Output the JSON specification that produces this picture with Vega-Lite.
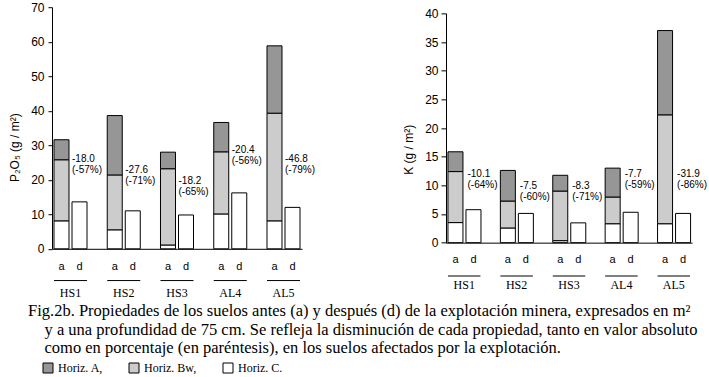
{
  "$schema": "https://vega.github.io/schema/vega-lite/v6.json",
  "background": "white",
  "padding": {"left": 8, "top": 1, "right": 0, "bottom": 0},
  "datasets": {
    "p": [
      {"site": "HS1", "period": "a", "horizon": "C", "value": 8.1},
      {"site": "HS1", "period": "a", "horizon": "Bw", "value": 17.7},
      {"site": "HS1", "period": "a", "horizon": "A", "value": 5.8},
      {"site": "HS1", "period": "d", "horizon": "C", "value": 13.6},
      {"site": "HS2", "period": "a", "horizon": "C", "value": 5.5},
      {"site": "HS2", "period": "a", "horizon": "Bw", "value": 15.9},
      {"site": "HS2", "period": "a", "horizon": "A", "value": 17.2},
      {"site": "HS2", "period": "d", "horizon": "C", "value": 11.0},
      {"site": "HS3", "period": "a", "horizon": "C", "value": 1.1},
      {"site": "HS3", "period": "a", "horizon": "Bw", "value": 22.1},
      {"site": "HS3", "period": "a", "horizon": "A", "value": 4.8},
      {"site": "HS3", "period": "d", "horizon": "C", "value": 9.8},
      {"site": "AL4", "period": "a", "horizon": "C", "value": 10.1},
      {"site": "AL4", "period": "a", "horizon": "Bw", "value": 18.0},
      {"site": "AL4", "period": "a", "horizon": "A", "value": 8.5},
      {"site": "AL4", "period": "d", "horizon": "C", "value": 16.2},
      {"site": "AL5", "period": "a", "horizon": "C", "value": 8.1},
      {"site": "AL5", "period": "a", "horizon": "Bw", "value": 31.2},
      {"site": "AL5", "period": "a", "horizon": "A", "value": 19.5},
      {"site": "AL5", "period": "d", "horizon": "C", "value": 12.0}
    ],
    "k": [
      {"site": "HS1", "period": "a", "horizon": "C", "value": 3.5},
      {"site": "HS1", "period": "a", "horizon": "Bw", "value": 8.9},
      {"site": "HS1", "period": "a", "horizon": "A", "value": 3.45},
      {"site": "HS1", "period": "d", "horizon": "C", "value": 5.75},
      {"site": "HS2", "period": "a", "horizon": "C", "value": 2.56},
      {"site": "HS2", "period": "a", "horizon": "Bw", "value": 4.7},
      {"site": "HS2", "period": "a", "horizon": "A", "value": 5.34},
      {"site": "HS2", "period": "d", "horizon": "C", "value": 5.1},
      {"site": "HS3", "period": "a", "horizon": "C", "value": 0.35},
      {"site": "HS3", "period": "a", "horizon": "Bw", "value": 8.65},
      {"site": "HS3", "period": "a", "horizon": "A", "value": 2.75},
      {"site": "HS3", "period": "d", "horizon": "C", "value": 3.45},
      {"site": "AL4", "period": "a", "horizon": "C", "value": 3.3},
      {"site": "AL4", "period": "a", "horizon": "Bw", "value": 4.66},
      {"site": "AL4", "period": "a", "horizon": "A", "value": 5.04},
      {"site": "AL4", "period": "d", "horizon": "C", "value": 5.3},
      {"site": "AL5", "period": "a", "horizon": "C", "value": 3.3},
      {"site": "AL5", "period": "a", "horizon": "Bw", "value": 19.0},
      {"site": "AL5", "period": "a", "horizon": "A", "value": 14.7},
      {"site": "AL5", "period": "d", "horizon": "C", "value": 5.1}
    ],
    "pann": [
      {"site": "HS1", "label": "-18.0\n(-57%)", "at": 27.4},
      {"site": "HS2", "label": "-27.6\n(-71%)", "at": 24.3},
      {"site": "HS3", "label": "-18.2\n(-65%)", "at": 21.1},
      {"site": "AL4", "label": "-20.4\n(-56%)", "at": 30.1},
      {"site": "AL5", "label": "-46.8\n(-79%)", "at": 27.4}
    ],
    "kann": [
      {"site": "HS1", "label": "-10.1\n(-64%)", "at": 12.9},
      {"site": "HS2", "label": "-7.5\n(-60%)", "at": 10.8},
      {"site": "HS3", "label": "-8.3\n(-71%)", "at": 10.8},
      {"site": "AL4", "label": "-7.7\n(-59%)", "at": 12.9},
      {"site": "AL5", "label": "-31.9\n(-86%)", "at": 12.9}
    ]
  },
  "hconcat": [
    {
      "width": 250,
      "height": 241.6,
      "title": {
        "text": ["Fig.2b. Propiedades de los suelos antes (a) y después (d) de la explotación minera, expresados en m²", "\u200b\u2002\u2002y a una profundidad de 75 cm. Se refleja la disminución  de cada propiedad, tanto en valor absoluto", "\u200b\u2002\u2002como en porcentaje (en paréntesis), en los suelos afectados por la explotación."],
        "orient": "bottom", "anchor": "start", "frame": "group", "align": "left", "dx": -24, "offset": 4.5,
        "font": "Liberation Serif", "fontSize": 16.5, "fontWeight": "normal", "color": "black", "lineHeight": 18.5
      },
      "layer": [
        {
          "data": {"name": "p"},
          "mark": {"type": "bar", "stroke": "black", "strokeWidth": 1},
          "encoding": {
            "x": {"field": "site", "type": "nominal", "sort": ["HS1", "HS2", "HS3", "AL4", "AL5"],
              "scale": {"paddingInner": 0.38, "paddingOuter": 0.0375},
              "axis": {"title": null, "ticks": false, "labelPadding": 39, "labelFont": "Liberation Serif", "labelFontSize": 12, "labelAngle": 0, "domainColor": "black", "labelColor": "black"}},
            "xOffset": {"field": "period", "type": "nominal", "scale": {"paddingInner": 0.167, "paddingOuter": 0}},
            "y": {"field": "value", "type": "quantitative", "stack": "zero",
              "scale": {"domain": [0, 70], "nice": false},
              "axis": {"title": "P₂O₅ (g / m²)", "values": [0, 10, 20, 30, 40, 50, 60, 70], "labelOverlap": false, "grid": false, "tickSize": 4, "labelPadding": 4, "labelFont": "Liberation Sans", "labelFontSize": 12, "labelColor": "black", "domainColor": "black", "tickColor": "black", "titleFont": "Liberation Sans", "titleFontSize": 12, "titleFontWeight": "normal", "titleColor": "black", "titlePadding": 9, "titleY": 140}},
            "color": {"field": "horizon", "type": "nominal",
              "scale": {"domain": ["A", "Bw", "C"], "range": ["#969696", "#cccccc", "#ffffff"]},
              "legend": {
                "orient": "none", "legendX": -10, "legendY": 355, "direction": "horizontal", "title": null,
                "labelExpr": "'Horiz. ' + datum.label + (datum.label == 'C' ? '.' : ',')",
                "labelFont": "Liberation Serif", "labelFontSize": 12, "labelColor": "black", "labelLimit": 0,
                "symbolType": "square", "symbolSize": 100, "symbolStrokeColor": "black", "symbolStrokeWidth": 1, "labelOffset": 4,
                "columnPadding": 24, "gridAlign": "none", "padding": 0
              }},
            "order": {"field": "horizon", "sort": "descending"}
          }
        },
        {
          "data": {"name": "pann"},
          "mark": {"type": "text", "align": "left", "baseline": "top", "dx": -7.5, "font": "Liberation Sans", "fontSize": 10, "lineHeight": 11, "lineBreak": "\n", "color": "black"},
          "encoding": {
            "x": {"field": "site", "type": "nominal", "sort": ["HS1", "HS2", "HS3", "AL4", "AL5"]},
            "xOffset": {"datum": "d", "type": "nominal"},
            "y": {"field": "at", "type": "quantitative", "scale": {"domain": [0, 70], "nice": false}, "axis": {"title": "P₂O₅ (g / m²)", "values": [0, 10, 20, 30, 40, 50, 60, 70], "labelOverlap": false}},
            "text": {"field": "label", "type": "nominal"}
          }
        },
        {
          "data": {"name": "p"},
          "transform": [{"aggregate": [{"op": "count", "as": "n"}], "groupby": ["site", "period"]}],
          "mark": {"type": "text", "baseline": "alphabetic", "font": "Liberation Sans", "fontSize": 11, "color": "black"},
          "encoding": {
            "x": {"field": "site", "type": "nominal", "sort": ["HS1", "HS2", "HS3", "AL4", "AL5"]},
            "xOffset": {"field": "period", "type": "nominal"},
            "y": {"datum": -6.15, "type": "quantitative", "axis": {"title": "P₂O₅ (g / m²)", "values": [0, 10, 20, 30, 40, 50, 60, 70], "labelOverlap": false}},
            "text": {"field": "period", "type": "nominal"}
          }
        },
        {
          "data": {"name": "p"},
          "transform": [{"aggregate": [{"op": "count", "as": "n"}], "groupby": ["site"]}],
          "mark": {"type": "rule", "color": "black", "strokeWidth": 1},
          "encoding": {
            "x": {"field": "site", "type": "nominal", "sort": ["HS1", "HS2", "HS3", "AL4", "AL5"], "bandPosition": 0},
            "x2": {"field": "site", "bandPosition": 1},
            "y": {"datum": -9.2, "type": "quantitative", "axis": {"title": "P₂O₅ (g / m²)", "values": [0, 10, 20, 30, 40, 50, 60, 70], "labelOverlap": false}}
          }
        }
      ]
    },
    {
      "width": 246,
      "height": 229.3,
      "layer": [
        {
          "data": {"name": "k"},
          "mark": {"type": "bar", "stroke": "black", "strokeWidth": 1},
          "encoding": {
            "x": {"field": "site", "type": "nominal", "sort": ["HS1", "HS2", "HS3", "AL4", "AL5"],
              "scale": {"paddingInner": 0.38, "paddingOuter": 0.0375},
              "axis": {"title": null, "ticks": false, "labelPadding": 37, "labelFont": "Liberation Serif", "labelFontSize": 12, "labelAngle": 0, "domainColor": "black", "labelColor": "black"}},
            "xOffset": {"field": "period", "type": "nominal", "scale": {"paddingInner": 0.2, "paddingOuter": 0}},
            "y": {"field": "value", "type": "quantitative", "stack": "zero",
              "scale": {"domain": [0, 40], "nice": false},
              "axis": {"title": "K (g / m²)", "values": [0, 5, 10, 15, 20, 25, 30, 35, 40], "labelOverlap": false, "grid": false, "tickSize": 5, "labelPadding": 3, "labelFont": "Liberation Sans", "labelFontSize": 12, "labelColor": "black", "domainColor": "black", "tickColor": "black", "titleFont": "Liberation Sans", "titleFontSize": 12, "titleFontWeight": "normal", "titleColor": "black", "titlePadding": 9, "titleY": 136}},
            "color": {"field": "horizon", "type": "nominal",
              "scale": {"domain": ["A", "Bw", "C"], "range": ["#969696", "#cccccc", "#ffffff"]}},
            "order": {"field": "horizon", "sort": "descending"}
          }
        },
        {
          "data": {"name": "kann"},
          "mark": {"type": "text", "align": "left", "baseline": "top", "dx": -6, "font": "Liberation Sans", "fontSize": 10, "lineHeight": 11, "lineBreak": "\n", "color": "black"},
          "encoding": {
            "x": {"field": "site", "type": "nominal", "sort": ["HS1", "HS2", "HS3", "AL4", "AL5"]},
            "xOffset": {"datum": "d", "type": "nominal"},
            "y": {"field": "at", "type": "quantitative", "scale": {"domain": [0, 40], "nice": false}, "axis": {"title": "K (g / m²)", "values": [0, 5, 10, 15, 20, 25, 30, 35, 40], "labelOverlap": false}},
            "text": {"field": "label", "type": "nominal"}
          }
        },
        {
          "data": {"name": "k"},
          "transform": [{"aggregate": [{"op": "count", "as": "n"}], "groupby": ["site", "period"]}],
          "mark": {"type": "text", "baseline": "alphabetic", "font": "Liberation Sans", "fontSize": 11, "color": "black"},
          "encoding": {
            "x": {"field": "site", "type": "nominal", "sort": ["HS1", "HS2", "HS3", "AL4", "AL5"]},
            "xOffset": {"field": "period", "type": "nominal"},
            "y": {"datum": -3.49, "type": "quantitative", "axis": {"title": "K (g / m²)", "values": [0, 5, 10, 15, 20, 25, 30, 35, 40], "labelOverlap": false}},
            "text": {"field": "period", "type": "nominal"}
          }
        },
        {
          "data": {"name": "k"},
          "transform": [{"aggregate": [{"op": "count", "as": "n"}], "groupby": ["site"]}],
          "mark": {"type": "rule", "color": "black", "strokeWidth": 1},
          "encoding": {
            "x": {"field": "site", "type": "nominal", "sort": ["HS1", "HS2", "HS3", "AL4", "AL5"], "bandPosition": 0},
            "x2": {"field": "site", "bandPosition": 1},
            "y": {"datum": -5.82, "type": "quantitative", "axis": {"title": "K (g / m²)", "values": [0, 5, 10, 15, 20, 25, 30, 35, 40], "labelOverlap": false}}
          }
        }
      ]
    }
  ],
  "spacing": 144,
  "bounds": "flush",
  "center": true,
  "resolve": {"scale": {"color": "shared"}, "legend": {"color": "shared"}},
  "config": {
    "view": {"stroke": null},
    "axis": {"grid": false}
  }
}
